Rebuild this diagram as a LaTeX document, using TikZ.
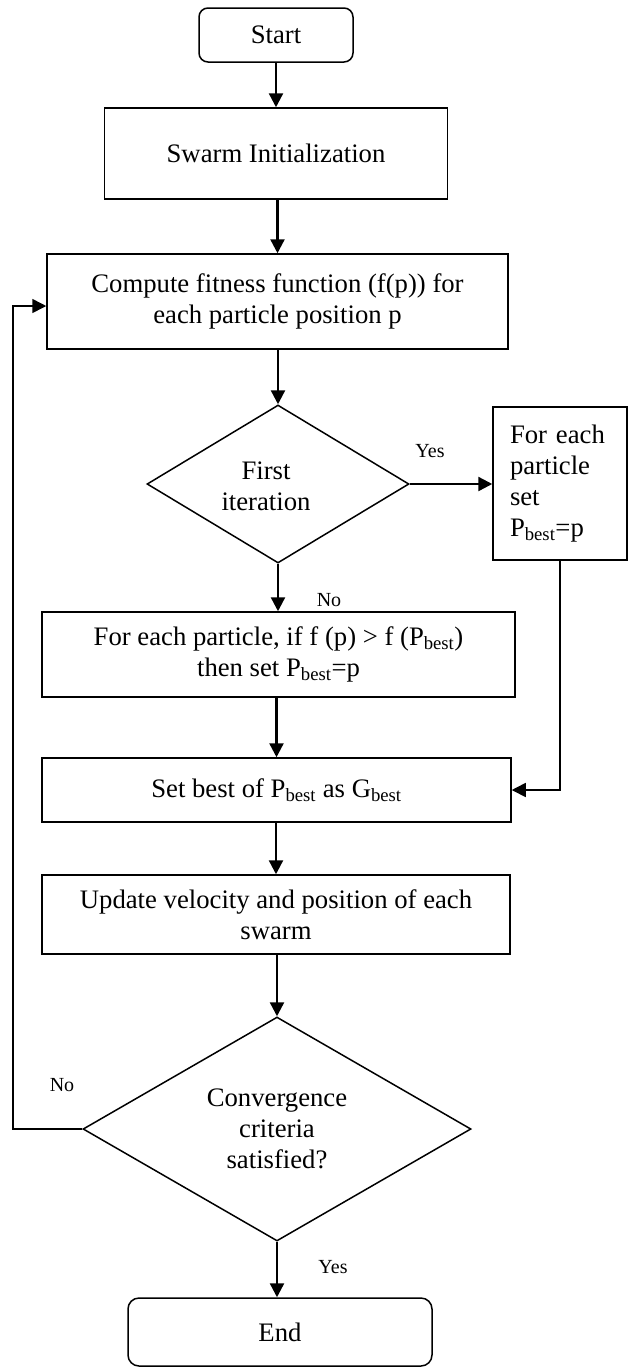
\documentclass[tikz,border=0pt]{standalone}
\usepackage{fontspec}
\setmainfont{Liberation Serif}
\usetikzlibrary{shapes.geometric,arrows.meta}
\begin{document}
\begin{tikzpicture}[x=1pt,y=-1pt,
  box/.style={draw,line width=1.5pt,align=center,inner sep=0pt,font=\fontsize{26.7}{31}\selectfont},
  rbox/.style={box,rounded corners=9pt},
  dec/.style={draw,diamond,line width=1.5pt,align=center,inner sep=0pt,font=\fontsize{26.7}{31}\selectfont},
  arr/.style={line width=2.4pt,-{Triangle[width=14pt,length=14pt]}},
  thinarr/.style={line width=1.6pt,-{Triangle[width=14pt,length=14pt]}},
  thinline/.style={line width=1.6pt},
  lbl/.style={font=\fontsize{20}{24}\selectfont,inner sep=0pt}]
\useasboundingbox (0,0) rectangle (633,1369);
\fill[white] (0,0) rectangle (633,1369);

\node[rbox,minimum width=154pt,minimum height=54pt] (start) at (276,35) {Start};
\node[box,minimum width=343pt,minimum height=91pt] (swarm) at (276,153.5) {Swarm Initialization};
\node[box,minimum width=461pt,minimum height=95pt] (compute) at (277.5,301.5) {Compute fitness function (f(p)) for\\each particle position p};
\node[dec,minimum width=262pt,minimum height=158pt,aspect=1.66] (d1) at (278,484) {};
\node[font=\fontsize{26.7}{31}\selectfont,align=center] (d1t) at (266,486) {First\\iteration};
\node[box,minimum width=134pt,minimum height=153pt,text width=100pt,align=left] (pset) at (560,483.5) {For each\\particle\\set\\P\textsubscript{best}=p};
\node[box,minimum width=473pt,minimum height=85pt] (upd1) at (278.5,654.5) {For each particle, if f (p) > f (P\textsubscript{best})\\then set P\textsubscript{best}=p};
\node[box,minimum width=469pt,minimum height=64pt] (setbest) at (276.5,790) {Set best of P\textsubscript{best} as G\textsubscript{best}};
\node[box,minimum width=468pt,minimum height=79pt] (update) at (276,914.5) {Update velocity and position of each\\swarm};
\node[dec,minimum width=388pt,minimum height=224pt,aspect=1.73] (d2) at (277,1129) {Convergence\\criteria\\satisfied?};
\node[rbox,minimum width=304pt,minimum height=68pt,rounded corners=11pt] (end) at (280,1332) {End};

\node[lbl] (yes1) at (430,451) {Yes};
\node[lbl] (no1) at (329,600) {No};
\node[lbl] (no2) at (62,1085) {No};
\node[lbl] (yes2) at (333,1267) {Yes};

\coordinate (lp1) at (13,1129);
\coordinate (lp2) at (13,306);

\draw[arr] (start.south) -- (start.south |- swarm.north);
\draw[arr] (swarm.south -| compute.north) -- (compute.north);
\draw[arr] (compute.south -| d1.north) -- (d1.north);
\draw[arr] (d1.south) -- (d1.south |- upd1.north);
\draw[arr] (d1.east) -- (pset.west |- d1.east);
\draw[thinarr] (pset.south) -- (pset.south |- setbest.east) -- (setbest.east);
\draw[arr] (upd1.south -| setbest.north) -- (setbest.north);
\draw[arr] (setbest.south -| update.north) -- (update.north);
\draw[arr] (update.south -| d2.north) -- (d2.north);
\draw[arr] (d2.south) -- (d2.south |- end.north);
\draw[thinarr] (d2.west) -- (lp1) -- (lp2) -- (lp2 -| compute.west);
\end{tikzpicture}
\end{document}
